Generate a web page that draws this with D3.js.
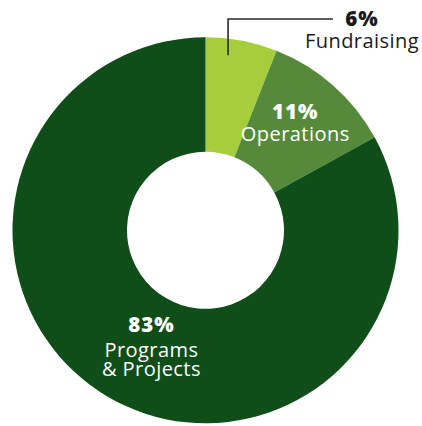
<!DOCTYPE html>
<html>
<head>
<meta charset="utf-8">
<script src="https://cdn.jsdelivr.net/npm/d3@7"></script>
<style>
  html, body { margin: 0; padding: 0; background: #fff; }
  svg { display: block; }
  .pct { font-family: "Open Sans", sans-serif; font-weight: 800; font-size: 20.5px; letter-spacing: 1px; }
  .name { font-family: "Open Sans", sans-serif; font-weight: 400; font-size: 20px; letter-spacing: 0.45px; }
</style>
</head>
<body>
<svg id="chart" width="422" height="426"></svg>
<script>
const categories = ["Fundraising", "Operations", "Programs & Projects"];
const values = [6, 11, 83];
const nameLines = [["Fundraising"], ["Operations"], ["Programs", "& Projects"]];
const colors = ["#a6ce3c", "#548a3a", "#0f4d19"];

const W = 422, H = 426;
const cx = 205.5, cy = 230.3;
const outerR = 193, innerR = 78.5;

const svg = d3.select("#chart");
const g = svg.append("g").attr("transform", `translate(${cx},${cy})`);

const pie = d3.pie().sort(null).value(d => d);
const arcs = pie(values);
const arc = d3.arc().innerRadius(innerR).outerRadius(outerR);

g.selectAll("path.slice")
  .data(arcs)
  .enter().append("path")
  .attr("class", "slice")
  .attr("d", arc)
  .attr("fill", (d, i) => colors[i]);

// Leader line for Fundraising (outside label)
const f = arcs[0];
const leadAngle = f.startAngle + 0.34 * (f.endAngle - f.startAngle);
const leadR = 176.5;
const lx = leadR * Math.sin(leadAngle), ly = -leadR * Math.cos(leadAngle);
const topY = 19 - cy;
const lineEndX = 333 - cx;
g.append("path")
  .attr("d", `M${lx},${ly}V${topY}H${lineEndX}`)
  .attr("fill", "none")
  .attr("stroke", "#2b2b2b")
  .attr("stroke-width", 1.6);

function polar(r, a) { return [r * Math.sin(a), -r * Math.cos(a)]; }

const labelInfo = [
  { pos: [lineEndX + 29, 26 - cy], fill: "#1a1a1a", gaps: [21.7] },
  { pos: (() => { const a = (arcs[1].startAngle + arcs[1].endAngle) / 2; const p = polar(138, a - 0.015); return [p[0], p[1] - 6]; })(), fill: "#ffffff", gaps: [22] },
  { pos: (() => { const a = (arcs[2].startAngle + arcs[2].endAngle) / 2 - 0.1; const p = polar(128.6, a); return [p[0], p[1] - 15]; })(), fill: "#ffffff", gaps: [25, 19.3] }
];

arcs.forEach((d, i) => {
  const info = labelInfo[i];
  const t = g.append("text")
    .attr("text-anchor", "middle")
    .attr("fill", info.fill)
    .attr("transform", `translate(${info.pos[0]},${info.pos[1]})`);
  t.append("tspan").attr("class", "pct").attr("x", 0).attr("y", 0).text(values[i] + "%");
  let y = 0;
  nameLines[i].forEach((line, j) => {
    y += info.gaps[Math.min(j, info.gaps.length - 1)];
    t.append("tspan").attr("class", "name").attr("x", 0).attr("y", y).text(line);
  });
});
</script>
</body>
</html>
